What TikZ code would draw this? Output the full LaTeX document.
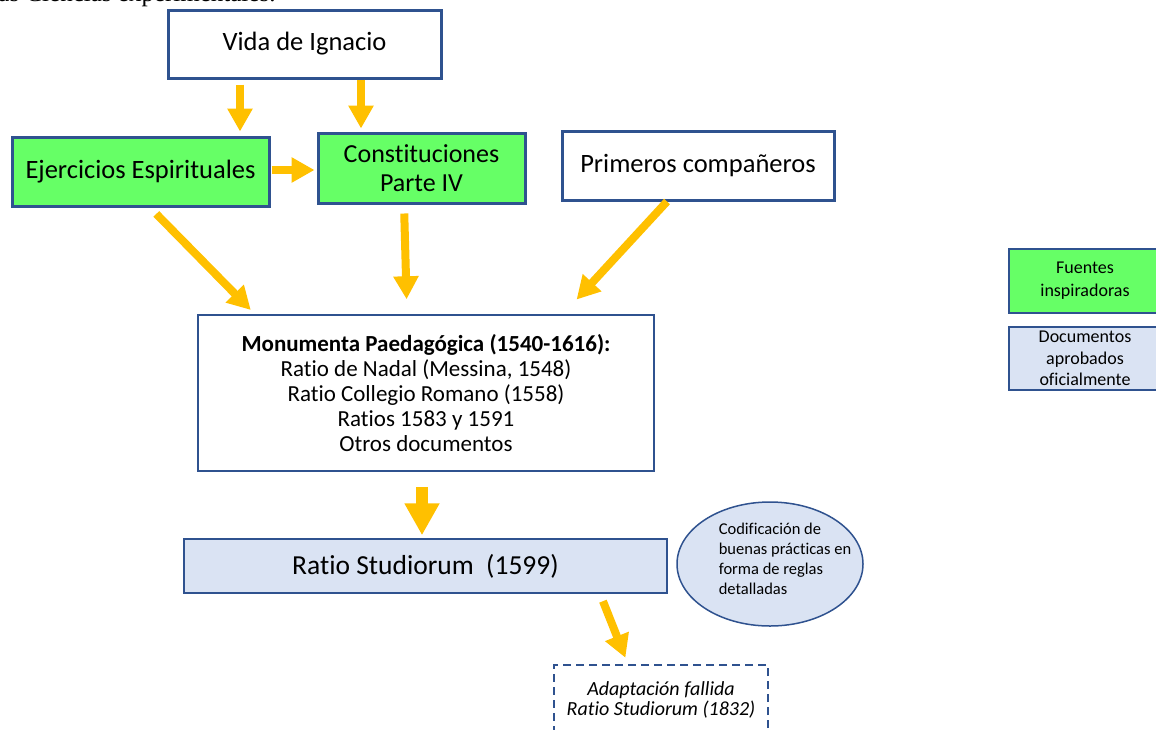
\documentclass[tikz,border=0pt]{standalone}
\usepackage{fontspec}
\setmainfont{Carlito}[Ligatures=NoCommon]
\newfontfamily\serifa{Liberation Serif}
\usetikzlibrary{arrows.meta,shapes.geometric}
\definecolor{borde}{HTML}{2F528F}
\definecolor{verde}{HTML}{66FF66}
\definecolor{celeste}{HTML}{DAE3F3}
\definecolor{naranja}{HTML}{FFC000}
\tikzset{
	caja/.style={draw=borde, line width=3pt, inner sep=0pt, align=center, font=\fontsize{26.5}{30}\selectfont},
	fuente/.style={caja, fill=verde},
	oficial/.style={draw=borde, line width=1.5pt, fill=celeste, inner sep=0pt, align=center},
	flecha/.style={draw=naranja, line width=8pt, -{Triangle[width=24pt,length=23pt]}},
	flechagrande/.style={flecha, line width=12pt, -{Triangle[width=33pt,length=32pt]}},
}

\begin{document}
\begin{tikzpicture}[x=1pt, y=-1pt]
		%%%%% START %%%%%
		
		\useasboundingbox (0, 0) rectangle (1156, 729);
		\clip (0, 0) rectangle (1156, 729);
		
		\node[font=\serifa\fontsize{25}{28}\selectfont, anchor=base west] (cita) at (-12, 1) {las Ciencias experimentales.};
		
		\node[caja, minimum width=273pt, minimum height=68pt] (vida) at (304.5, 44) {Vida de Ignacio};
		\node[fuente, minimum width=257pt, minimum height=69pt] (ejer) at (140.5, 171.5) {Ejercicios Espirituales};
		\node[fuente, minimum width=207pt, minimum height=70pt, font=\fontsize{26}{29}\selectfont] (const) at (421.5, 168) {Constituciones\\Parte IV};
		\node[caja, minimum width=272pt, minimum height=69pt] (prim) at (698, 165.5) {Primeros compañeros};
		
		\node[draw=borde, line width=1.5pt, inner sep=0pt, align=center, minimum width=456pt, minimum height=156pt, font=\fontsize{23}{25}\selectfont] (monu) at (426, 393)
			{\textbf{Monumenta Paedagógica (1540-1616):}\\Ratio de Nadal (Messina, 1548)\\Ratio Collegio Romano (1558)\\Ratios 1583 y 1591\\Otros documentos};
		
		\node[oficial, minimum width=483pt, minimum height=54pt, font=\fontsize{27.5}{30}\selectfont] (ratio) at (425.5, 566) {Ratio Studiorum\ \ (1599)};
		
		\node[ellipse, oficial, minimum width=186pt, minimum height=124pt] (codif) at (770, 564) {};
		\node[align=left, font=\fontsize{16.5}{20}\selectfont] (codiftxt) at (785, 559) {Codificación de\\buenas prácticas en\\forma de reglas\\detalladas};
		
		\node[draw=borde, line width=1.5pt, dash pattern=on 8pt off 5pt, inner sep=0pt, align=center, minimum width=214pt, minimum height=70pt, font=\itshape\fontsize{20}{20}\selectfont] (adapt) at (661, 700) {Adaptación fallida\\Ratio Studiorum (1832)};
		
		\node[oficial, fill=verde, minimum width=152pt, minimum height=64pt, font=\fontsize{18}{23}\selectfont] (leyfuente) at (1085, 281) {Fuentes\\inspiradoras};
		\node[oficial, minimum width=152pt, minimum height=63pt, font=\fontsize{18}{21.5}\selectfont] (leyoficial) at (1085, 358.5) {Documentos\\aprobados\\oficialmente};
		
		\draw[flecha, shorten <=5pt, shorten >=4pt] ([xshift=-64.5pt]vida.south) -- ([xshift=99.5pt]ejer.north);
		\draw[flecha, shorten >=3pt] ([xshift=56.5pt]vida.south) -- ([xshift=-60.5pt]const.north);
		\draw[flecha, shorten <=1pt, shorten >=2pt] ([yshift=1.5pt]ejer.east) -- ([yshift=-2pt]const.west);
		
		\draw[flecha, shorten <=9pt, shorten >=6pt] ([xshift=9.5pt]ejer.south) -- ([xshift=-171pt]monu.north);
		\draw[flecha, shorten <=9pt, shorten >=15pt] ([xshift=-17.5pt]const.south) -- ([xshift=-19pt]monu.north);
		\draw[flecha, shorten >=20pt] ([xshift=-31pt]prim.south) -- ([xshift=137pt]monu.north);
		
		\draw[flechagrande, shorten <=15pt, shorten >=3pt] ([xshift=-4pt]monu.south) -- ([xshift=-3.5pt]ratio.north);
		\draw[flecha, shorten <=8pt, shorten >=7pt] ([xshift=174.5pt]ratio.south) -- ([xshift=-33pt]adapt.north);
		
		%%%%% END %%%%%
	\end{tikzpicture}
\end{document}
